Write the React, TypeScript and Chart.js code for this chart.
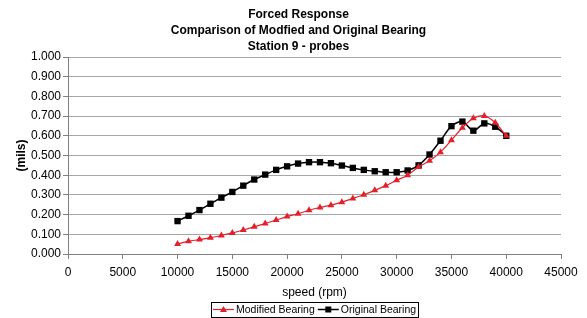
import React, { useEffect, useRef } from "react";
import { Chart, registerables } from "chart.js";

Chart.register(...registerables);

// ---- data ----
const speeds = [
  10000, 11000, 12000, 13000, 14000, 15000, 16000, 17000, 18000, 19000, 20000,
  21000, 22000, 23000, 24000, 25000, 26000, 27000, 28000, 29000, 30000,
  31000, 32000, 33000, 34000, 35000, 36000, 37000, 38000, 39000, 40000,
];
const modifiedBearing = [
  0.051, 0.065, 0.073, 0.083, 0.094, 0.107, 0.122, 0.138, 0.155, 0.172, 0.19,
  0.204, 0.222, 0.236, 0.248, 0.263, 0.282, 0.301, 0.323, 0.347, 0.374,
  0.4, 0.442, 0.473, 0.517, 0.578, 0.641, 0.689, 0.701, 0.666, 0.6,
];
const originalBearing = [
  0.167, 0.194, 0.223, 0.255, 0.286, 0.315, 0.347, 0.378, 0.403, 0.427, 0.445,
  0.459, 0.466, 0.466, 0.461, 0.449, 0.437, 0.427, 0.42, 0.415, 0.415,
  0.424, 0.45, 0.505, 0.575, 0.649, 0.672, 0.626, 0.663, 0.646, 0.6,
];
const seriesNames = ["Modified Bearing", "Original Bearing"];
const titleLines = [
  "Forced Response",
  "Comparison of Modfied and Original Bearing",
  "Station 9 - probes",
];
const xAxisTitle = "speed (rpm)";
const yAxisTitle = "(mils)";
const xMin = 0;
const xMax = 45000;
const xStep = 5000;
const yMin = 0;
const yMax = 1;
const yStep = 0.1;

const FONT = '"Liberation Sans", Arial, Helvetica, sans-serif';
const RED = "#e3202a";
const BLACK = "#000000";

const titleDraw = {
  id: "titleDraw",
  afterDraw(chart: any) {
    const ctx = chart.ctx as CanvasRenderingContext2D;
    ctx.save();
    ctx.font = `bold 12px ${FONT}`;
    ctx.fillStyle = "#000";
    ctx.textAlign = "center";
    ctx.textBaseline = "middle";
    const cx = chart.width / 2 + 5;
    titleLines.forEach((t, i) => ctx.fillText(t, cx, 15 + i * 16));
    ctx.restore();
  },
};

const boxLegend = {
  id: "boxLegend",
  afterDraw(chart: any) {
    const ctx = chart.ctx as CanvasRenderingContext2D;
    const area = chart.chartArea;
    ctx.save();
    ctx.font = `10.5px ${FONT}`;
    ctx.textBaseline = "middle";
    ctx.textAlign = "left";
    const iconW = 21;
    const gap = 2;
    const itemGap = 3;
    const padX = 2;
    const items = chart.data.datasets.map((ds: any) => ({
      ds,
      w: ctx.measureText(ds.label).width,
    }));
    const total =
      items.reduce((s: number, it: any) => s + iconW + gap + it.w, 0) +
      itemGap * (items.length - 1) +
      padX * 2;
    const cx = (area.left + area.right) / 2;
    const cy = chart.height - 8.5;
    const h = 15;
    let x = Math.round(cx - total / 2);
    ctx.strokeStyle = "#000";
    ctx.lineWidth = 1;
    ctx.strokeRect(x + 0.5, Math.round(cy - h / 2) + 0.5, Math.round(total), h);
    x += padX;
    items.forEach(({ ds, w }: any) => {
      ctx.strokeStyle = ds.borderColor;
      ctx.lineWidth = ds.borderWidth;
      ctx.beginPath();
      ctx.moveTo(x, cy);
      ctx.lineTo(x + iconW, cy);
      ctx.stroke();
      const mx = x + iconW / 2;
      ctx.fillStyle = ds.pointBackgroundColor;
      ctx.beginPath();
      if (ds.pointStyle === "triangle") {
        ctx.moveTo(mx, cy - 3.5);
        ctx.lineTo(mx + 3.5, cy + 2.5);
        ctx.lineTo(mx - 3.5, cy + 2.5);
        ctx.closePath();
      } else {
        ctx.rect(mx - 3, cy - 3, 6, 6);
      }
      ctx.fill();
      ctx.fillStyle = "#000";
      ctx.fillText(ds.label, x + iconW + gap, cy + 0.5);
      x += iconW + gap + w + itemGap;
    });
    ctx.restore();
  },
};

export default function App() {
  const canvasRef = useRef<HTMLCanvasElement | null>(null);

  useEffect(() => {
    if (!canvasRef.current) return;
    const chart = new Chart(canvasRef.current, {
      type: "line",
      data: {
        datasets: [
          {
            label: seriesNames[0],
            data: speeds.map((s, i) => ({ x: s, y: modifiedBearing[i] })),
            borderColor: RED,
            backgroundColor: RED,
            pointBackgroundColor: RED,
            pointBorderColor: RED,
            pointStyle: "triangle",
            pointRadius: 4,
            pointBorderWidth: 0,
            borderWidth: 1.2,
            tension: 0.3,
            fill: false,
          },
          {
            label: seriesNames[1],
            data: speeds.map((s, i) => ({ x: s, y: originalBearing[i] })),
            borderColor: BLACK,
            backgroundColor: BLACK,
            pointBackgroundColor: BLACK,
            pointBorderColor: BLACK,
            pointStyle: "rect",
            pointRadius: 4.5,
            pointBorderWidth: 0,
            borderWidth: 1.5,
            tension: 0.3,
            fill: false,
          },
        ],
      },
      options: {
        responsive: false,
        animation: false,
        devicePixelRatio: 1,
        layout: { padding: { left: 0, right: 26, top: 57, bottom: 0 } },
        plugins: {
          legend: { display: false },
          tooltip: { enabled: false },
          title: { display: false },
        },
        scales: {
          x: {
            type: "linear",
            min: xMin,
            max: xMax,
            afterFit(scale: any) {
              scale.height = 64;
            },
            ticks: {
              stepSize: xStep,
              autoSkip: false,
              maxRotation: 0,
              color: "#000",
              padding: 6,
              font: { family: FONT, size: 12 },
              callback: (v: any) => String(v),
            },
            grid: {
              drawOnChartArea: false,
              drawTicks: true,
              tickLength: 5,
              tickColor: "#808080",
            },
            border: { display: true, color: "#808080", width: 1 },
            title: {
              display: true,
              text: xAxisTitle,
              color: "#000",
              font: { family: FONT, size: 12 },
              padding: { top: 0, bottom: 18 },
            },
          },
          y: {
            type: "linear",
            min: yMin,
            max: yMax,
            afterFit(scale: any) {
              scale.width = 68;
            },
            ticks: {
              stepSize: yStep,
              color: "#000",
              padding: 2,
              font: { family: FONT, size: 12 },
              callback: (v: any) => Number(v).toFixed(3),
            },
            grid: {
              color: "#a6a6a6",
              lineWidth: 1,
              drawTicks: true,
              tickLength: 5,
              tickColor: "#808080",
            },
            border: { display: true, color: "#808080", width: 1 },
            title: {
              display: true,
              text: yAxisTitle,
              color: "#000",
              font: { family: FONT, size: 12, weight: "bold" },
              padding: { top: 14, bottom: 0 },
            },
          },
        },
      },
      plugins: [titleDraw, boxLegend],
    } as any);
    return () => chart.destroy();
  }, []);

  return (
    <div style={{ position: "absolute", left: 0, top: 0, width: 587, height: 318, background: "#fff" }}>
      <canvas ref={canvasRef} width={587} height={318} style={{ display: "block" }} />
    </div>
  );
}
